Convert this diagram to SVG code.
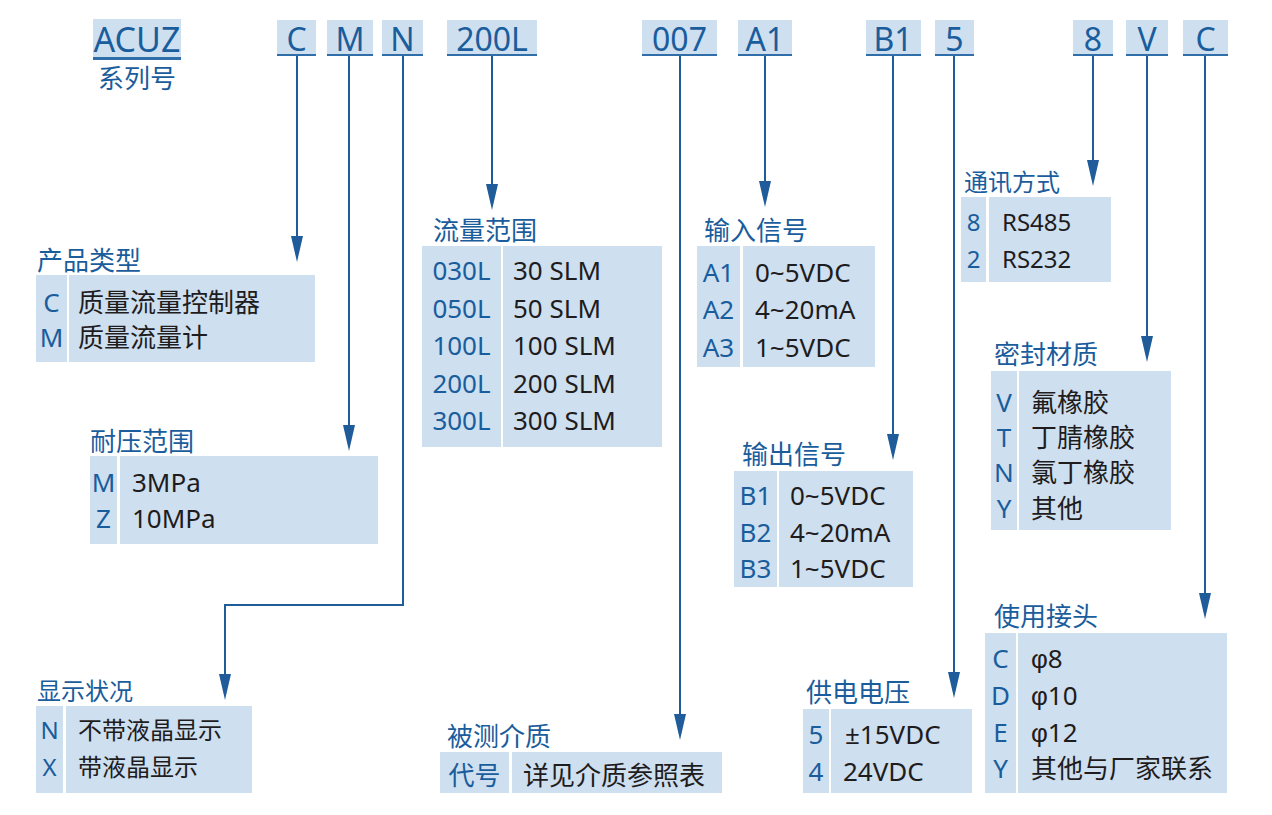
<svg xmlns="http://www.w3.org/2000/svg" width="1272" height="815" viewBox="0 0 1272 815">
<defs>
<style>
text{font-family:"Noto Sans","Noto Sans CJK SC",sans-serif}
.bg{fill:#cedff0}
.ul{fill:#2f6ea8}
.hd{font-size:32px;fill:#1a5d9c;text-anchor:middle}
.t{font-size:26px;fill:#1a5d9c}
.c{font-size:26px;fill:#1a5d9c;text-anchor:middle}
.d{font-size:26px;fill:#1e1c1d}
.s{font-size:24px}
.phi{font-family:"Liberation Sans",sans-serif}
.ln{fill:none;stroke:#1f5c99;stroke-width:2;marker-end:url(#ah)}
</style>
<marker id="ah" viewBox="0 0 26 12" markerWidth="26" markerHeight="12" refX="18" refY="6" orient="auto" markerUnits="userSpaceOnUse">
<path d="M0,0 L26,6 L0,12 Z" fill="#1f5c99"/>
</marker>
</defs>
<rect width="1272" height="815" fill="#ffffff"/>

<g id="h-acuz">
<rect class="bg" x="93" y="19" width="88" height="38"/>
<rect class="ul" x="93" y="57" width="88" height="3"/>
<text class="hd" x="137" y="52" style="font-size:34px">ACUZ</text>
<text class="t" x="137" y="88" text-anchor="middle">系列号</text>
</g>
<g id="h-c"><rect class="bg" x="277" y="20" width="39" height="34"/><rect class="ul" x="277" y="54" width="39" height="2"/><text class="hd" x="296.5" y="51">C</text></g>
<g id="h-m"><rect class="bg" x="327" y="20" width="46" height="34"/><rect class="ul" x="327" y="54" width="46" height="2"/><text class="hd" x="350" y="51">M</text></g>
<g id="h-n"><rect class="bg" x="382" y="20" width="41" height="34"/><rect class="ul" x="382" y="54" width="41" height="2"/><text class="hd" x="402.5" y="51">N</text></g>
<g id="h-200l"><rect class="bg" x="447" y="20" width="90" height="34"/><rect class="ul" x="447" y="54" width="90" height="2"/><text class="hd" x="492" y="51">200L</text></g>
<g id="h-007"><rect class="bg" x="642" y="20" width="75" height="34"/><rect class="ul" x="642" y="54" width="75" height="2"/><text class="hd" x="679.5" y="51">007</text></g>
<g id="h-a1"><rect class="bg" x="738" y="20" width="54" height="34"/><rect class="ul" x="738" y="54" width="54" height="2"/><text class="hd" x="765" y="51">A1</text></g>
<g id="h-b1"><rect class="bg" x="866" y="20" width="55" height="34"/><rect class="ul" x="866" y="54" width="55" height="2"/><text class="hd" x="893" y="51">B1</text></g>
<g id="h-5"><rect class="bg" x="935" y="20" width="39" height="34"/><rect class="ul" x="935" y="54" width="39" height="2"/><text class="hd" x="954.5" y="51">5</text></g>
<g id="h-8"><rect class="bg" x="1073" y="20" width="40" height="34"/><rect class="ul" x="1073" y="54" width="40" height="2"/><text class="hd" x="1093" y="51">8</text></g>
<g id="h-v"><rect class="bg" x="1126" y="20" width="42" height="34"/><rect class="ul" x="1126" y="54" width="42" height="2"/><text class="hd" x="1147" y="51">V</text></g>
<g id="h-c2"><rect class="bg" x="1183" y="20" width="45" height="34"/><rect class="ul" x="1183" y="54" width="45" height="2"/><text class="hd" x="1205.5" y="51">C</text></g>

<g id="connectors">
<path class="ln" d="M297,56 V254"/>
<path class="ln" d="M349,56 V443"/>
<path class="ln" d="M403,56 V605 H225 V692"/>
<path class="ln" d="M492,56 V202"/>
<path class="ln" d="M680,56 V732"/>
<path class="ln" d="M765,56 V199"/>
<path class="ln" d="M893,56 V452"/>
<path class="ln" d="M954,56 V690"/>
<path class="ln" d="M1093,56 V178"/>
<path class="ln" d="M1147,56 V354"/>
<path class="ln" d="M1205,56 V611"/>
</g>

<g id="t-type">
<text class="t" x="37" y="270">产品类型</text>
<rect class="bg" x="36" y="275" width="31" height="87"/>
<rect class="bg" x="69" y="275" width="246" height="87"/>
<text class="c" x="51.5" y="312">C</text>
<text class="c" x="51.5" y="347">M</text>
<text class="d" x="78" y="312">质量流量控制器</text>
<text class="d" x="78" y="347">质量流量计</text>
</g>

<g id="t-pressure">
<text class="t" x="90" y="451">耐压范围</text>
<rect class="bg" x="90" y="456" width="27" height="88"/>
<rect class="bg" x="120" y="456" width="258" height="88"/>
<text class="c" x="103.5" y="492">M</text>
<text class="c" x="103.5" y="528">Z</text>
<text class="d" x="132" y="492">3MPa</text>
<text class="d" x="132" y="528">10MPa</text>
</g>

<g id="t-flow">
<text class="t" x="433" y="240">流量范围</text>
<rect class="bg" x="422" y="246" width="79" height="201"/>
<rect class="bg" x="503" y="246" width="159" height="201"/>
<text class="c" x="461.5" y="280">030L</text>
<text class="c" x="461.5" y="318">050L</text>
<text class="c" x="461.5" y="355">100L</text>
<text class="c" x="461.5" y="393">200L</text>
<text class="c" x="461.5" y="430">300L</text>
<text class="d" x="513" y="280">30 SLM</text>
<text class="d" x="513" y="318">50 SLM</text>
<text class="d" x="513" y="355">100 SLM</text>
<text class="d" x="513" y="393">200 SLM</text>
<text class="d" x="513" y="430">300 SLM</text>
</g>

<g id="t-input">
<text class="t" x="704" y="240">输入信号</text>
<rect class="bg" x="697" y="246" width="43" height="121"/>
<rect class="bg" x="743" y="246" width="132" height="121"/>
<text class="c" x="718.5" y="282">A1</text>
<text class="c" x="718.5" y="319">A2</text>
<text class="c" x="718.5" y="357">A3</text>
<text class="d" x="755" y="282">0~5VDC</text>
<text class="d" x="755" y="319">4~20mA</text>
<text class="d" x="755" y="357">1~5VDC</text>
</g>

<g id="t-output">
<text class="t" x="742" y="464">输出信号</text>
<rect class="bg" x="734" y="471" width="43" height="116"/>
<rect class="bg" x="779" y="471" width="134" height="116"/>
<text class="c" x="755.5" y="505">B1</text>
<text class="c" x="755.5" y="542">B2</text>
<text class="c" x="755.5" y="578">B3</text>
<text class="d" x="790" y="505">0~5VDC</text>
<text class="d" x="790" y="542">4~20mA</text>
<text class="d" x="790" y="578">1~5VDC</text>
</g>

<g id="t-comm">
<text class="t s" x="964" y="191">通讯方式</text>
<rect class="bg" x="961" y="197" width="25" height="85"/>
<rect class="bg" x="989" y="197" width="122" height="85"/>
<text class="c s" x="973.5" y="231">8</text>
<text class="c s" x="973.5" y="268">2</text>
<text class="d s" x="1002" y="231">RS485</text>
<text class="d s" x="1002" y="268">RS232</text>
</g>

<g id="t-seal">
<text class="t" x="994" y="364">密封材质</text>
<rect class="bg" x="991" y="371" width="26" height="159"/>
<rect class="bg" x="1019" y="371" width="152" height="159"/>
<text class="c" x="1004" y="412">V</text>
<text class="c" x="1004" y="447">T</text>
<text class="c" x="1004" y="482">N</text>
<text class="c" x="1004" y="518">Y</text>
<text class="d" x="1031" y="412">氟橡胶</text>
<text class="d" x="1031" y="447">丁腈橡胶</text>
<text class="d" x="1031" y="482">氯丁橡胶</text>
<text class="d" x="1031" y="518">其他</text>
</g>

<g id="t-fitting">
<text class="t" x="994" y="626">使用接头</text>
<rect class="bg" x="985" y="633" width="31" height="160"/>
<rect class="bg" x="1018" y="633" width="209" height="160"/>
<text class="c" x="1000.5" y="668">C</text>
<text class="c" x="1000.5" y="705">D</text>
<text class="c" x="1000.5" y="742">E</text>
<text class="c" x="1000.5" y="778">Y</text>
<text class="d" x="1031" y="668"><tspan class="phi">φ</tspan>8</text>
<text class="d" x="1031" y="705"><tspan class="phi">φ</tspan>10</text>
<text class="d" x="1031" y="742"><tspan class="phi">φ</tspan>12</text>
<text class="d" x="1031" y="778">其他与厂家联系</text>
</g>

<g id="t-power">
<text class="t" x="806" y="702">供电电压</text>
<rect class="bg" x="803" y="709" width="26" height="84"/>
<rect class="bg" x="831" y="709" width="141" height="84"/>
<text class="c" x="816" y="744">5</text>
<text class="c" x="816" y="781">4</text>
<text class="d" x="845" y="744">±15VDC</text>
<text class="d" x="843" y="781">24VDC</text>
</g>

<g id="t-display">
<text class="t s" x="37" y="700">显示状况</text>
<rect class="bg" x="36" y="706" width="27" height="87"/>
<rect class="bg" x="66" y="706" width="186" height="87"/>
<text class="c s" x="49.5" y="739">N</text>
<text class="c s" x="49.5" y="776">X</text>
<text class="d s" x="78" y="739">不带液晶显示</text>
<text class="d s" x="78" y="776">带液晶显示</text>
</g>

<g id="t-medium">
<text class="t" x="447" y="746">被测介质</text>
<rect class="bg" x="440" y="752" width="69" height="41"/>
<rect class="bg" x="512" y="752" width="210" height="41"/>
<text class="c" x="474.5" y="785">代号</text>
<text class="d" x="523" y="785">详见介质参照表</text>
</g>
</svg>
